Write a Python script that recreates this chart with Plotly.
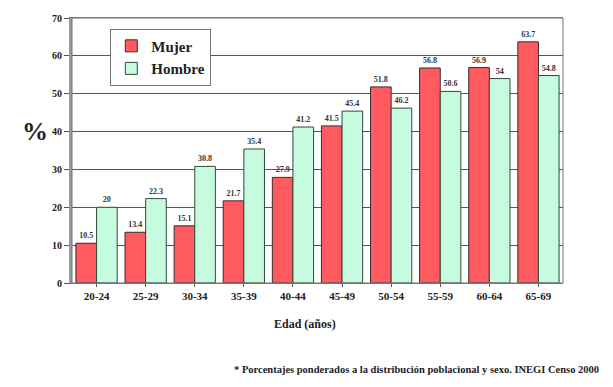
import plotly.graph_objects as go

# Age groups and percentages by sex
edades = ["20-24", "25-29", "30-34", "35-39", "40-44",
          "45-49", "50-54", "55-59", "60-64", "65-69"]
mujer = [10.5, 13.4, 15.1, 21.7, 27.9, 41.5, 51.8, 56.8, 56.9, 63.7]
hombre = [20, 22.3, 30.8, 35.4, 41.2, 45.4, 46.2, 50.6, 54, 54.8]
y_ticks = [0, 10, 20, 30, 40, 50, 60, 70]

serif = "Liberation Serif, Times New Roman, DejaVu Serif, serif"
label_font = dict(family=serif, size=8, color="#333333", weight="bold")

fig = go.Figure()
fig.add_trace(go.Bar(
    x=edades, y=mujer, name="Mujer",
    marker=dict(color="#ff5a60", line=dict(color="#3a2a2a", width=1)),
    text=[str(v) for v in mujer], textposition="outside",
    textfont=label_font, outsidetextfont=label_font,
    cliponaxis=False,
))
fig.add_trace(go.Bar(
    x=edades, y=hombre, name="Hombre",
    marker=dict(color="#c6fbdf", line=dict(color="#2f4a3a", width=1)),
    text=[str(v) for v in hombre], textposition="outside",
    textfont=label_font, outsidetextfont=label_font,
    cliponaxis=False,
))

fig.update_layout(
    width=613, height=387,
    margin=dict(l=72, r=50, t=15, b=104),
    paper_bgcolor="white", plot_bgcolor="white",
    barmode="group", bargap=0.16, bargroupgap=0,
    font=dict(family=serif, color="#222222"),
    showlegend=True,
    legend=dict(
        x=0.078, y=0.96, xanchor="left", yanchor="top",
        bgcolor="white", bordercolor="#777777", borderwidth=1,
        font=dict(family=serif, size=15, color="#222222", weight="bold"),
        itemwidth=30, tracegroupgap=0,
    ),
)

fig.update_xaxes(
    showline=True, linecolor="#777777", linewidth=1,
    ticks="outside", ticklen=3, tickcolor="#555555",
    tickfont=dict(family=serif, size=11, color="#222222", weight="bold"),
    mirror=True,
)
fig.update_yaxes(
    range=[0, 70], tickvals=y_ticks,
    showgrid=True, gridcolor="#555555", gridwidth=1,
    showline=True, linecolor="#999999", linewidth=3,
    ticks="outside", ticklen=5, tickcolor="#555555",
    tickfont=dict(family=serif, size=10, color="#222222", weight="bold"),
    zeroline=False,
)

# Right and top border of the plot area
fig.add_shape(type="rect", xref="paper", yref="paper", x0=0, x1=1, y0=0, y1=1,
              line=dict(color="#777777", width=1), layer="above")

fig.add_annotation(text="%", xref="paper", yref="paper",
                   x=-0.105, y=0.57, showarrow=False,
                   font=dict(family=serif, size=26, color="#222222", weight="bold"))
fig.add_annotation(text="Edad (años)", xref="paper", yref="paper",
                   x=0.475, y=-0.19, showarrow=False,
                   font=dict(family=serif, size=12, color="#222222", weight="bold"))
fig.add_annotation(
    text="* Porcentajes ponderados a la distribución poblacional y sexo. INEGI Censo 2000",
    xref="paper", yref="paper", x=0.326, y=-0.354, xanchor="left",
    showarrow=False, font=dict(family=serif, size=10.5, color="#222222", weight="bold"))

fig.write_html("out.html")
